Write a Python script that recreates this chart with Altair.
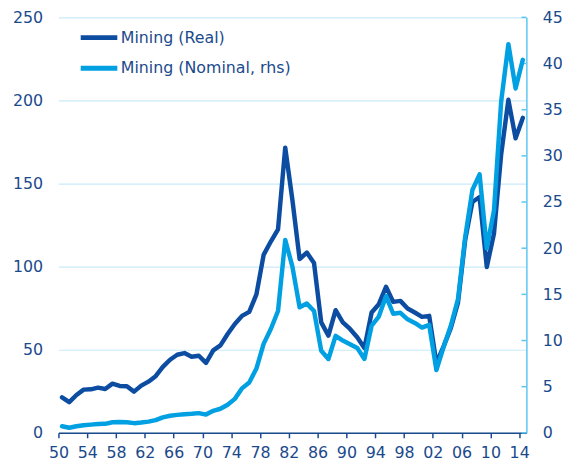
import altair as alt
import pandas as pd

years = list(range(1950, 2015))
real = [21.4, 18.5, 22.8, 26.0, 26.2, 27.2, 26.4, 29.6, 28.2, 28.0,
        24.8, 28.4, 30.8, 34.1, 39.7, 44.0, 47.0, 48.0, 45.8, 46.4,
        42.1, 49.6, 52.6, 59.5, 65.5, 70.4, 72.8, 83.3, 107.1, 115.1,
        122.4, 171.6, 140.0, 104.6, 108.5, 102.2, 66.5, 58.5, 73.8, 66.5,
        62.5, 57.5, 51.0, 72.4, 77.4, 87.9, 78.8, 79.4, 74.8, 72.4,
        69.8, 70.4, 42.0, 52.0, 63.0, 78.4, 116.1, 138.9, 141.9, 99.8,
        120.0, 167.7, 200.4, 177.2, 189.5]
nominal = [0.72, 0.55, 0.72, 0.82, 0.89, 0.95, 0.98, 1.15, 1.18, 1.15,
           1.05, 1.12, 1.22, 1.38, 1.68, 1.85, 1.95, 2.02, 2.06, 2.14,
           1.98, 2.39, 2.61, 3.04, 3.68, 4.82, 5.46, 6.96, 9.64, 11.25,
           13.2, 20.9, 18.0, 13.6, 14.0, 13.2, 8.9, 8.0, 10.5, 10.0,
           9.6, 9.2, 8.0, 11.6, 12.6, 14.8, 12.9, 13.0, 12.3, 11.9,
           11.4, 11.7, 6.8, 9.3, 11.6, 14.5, 21.2, 26.3, 28.0, 20.0,
           24.1, 35.9, 42.1, 37.3, 40.4]
x_ticks = list(range(1950, 2015, 4))
left_ticks = [0, 50, 100, 150, 200, 250]
right_ticks = [0, 5, 10, 15, 20, 25, 30, 35, 40, 45]
series = ["Mining (Real)", "Mining (Nominal, rhs)"]
colors = ["#0c4da2", "#00a0e3"]

TEXT = "#1b4a8c"
LIGHT = "#5cc6f2"
GRID = "#c8eaf9"
FONT = "DejaVu Sans"
FS = 16

df = pd.DataFrame({"year": years, "real": real, "nominal": nominal})
rt = pd.DataFrame({"v": right_ticks})

x_enc = alt.X(
    "t:Q",
    scale=alt.Scale(domain=[1950, 2015], nice=False, zero=False),
    axis=alt.Axis(values=x_ticks, labelExpr="slice(toString(datum.value), 2)",
                  domainColor=TEXT, tickColor=TEXT, tickSize=5, tickWidth=1.5,
                  domainWidth=1.5, grid=False, title=None, labelPadding=7,
                  labelFontSize=FS, labelColor=TEXT, labelFont=FONT,
                  labelOverlap=False, labelFlush=False, labelBound=False),
)

color_enc = alt.Color(
    "series:N",
    scale=alt.Scale(domain=series, range=colors),
    legend=alt.Legend(orient="none", legendX=20, legendY=5, title=None,
                      symbolType="stroke", symbolStrokeWidth=5, symbolSize=1369,
                      labelFontSize=FS, labelColor=TEXT, labelFont=FONT,
                      labelOffset=1, labelLimit=400, clipHeight=31, rowPadding=0),
)

base = alt.Chart(df).transform_calculate(t="datum.year + 0.5")

real_line = base.transform_calculate(series=f'"{series[0]}"').mark_line(
    strokeWidth=4.5, strokeJoin="round", strokeCap="round"
).encode(
    x=x_enc,
    y=alt.Y("real:Q", scale=alt.Scale(domain=[0, 250], nice=False),
            axis=alt.Axis(values=left_ticks, orient="left", domain=False, ticks=False,
                          grid=True, gridColor=GRID, gridWidth=1.2, title=None,
                          labelPadding=16, labelFontSize=FS, labelColor=TEXT,
                          labelFont=FONT, labelOverlap=False)),
    color=color_enc,
)

nom_line = base.transform_calculate(series=f'"{series[1]}"').mark_line(
    strokeWidth=4.5, strokeJoin="round", strokeCap="round"
).encode(
    x=x_enc,
    y=alt.Y("nominal:Q", scale=alt.Scale(domain=[0, 45], nice=False),
            axis=alt.Axis(values=right_ticks, orient="right", domain=True,
                          domainColor=LIGHT, domainWidth=1.5, ticks=False,
                          grid=False, title=None, labelPadding=16,
                          labelFontSize=FS, labelColor=TEXT, labelFont=FONT,
                          labelOverlap=False)),
    color=color_enc,
)

tick_rules = alt.Chart(rt).mark_rule(color=LIGHT, strokeWidth=1.5).encode(
    y=alt.Y("v:Q", scale=alt.Scale(domain=[0, 45], nice=False), axis=None),
    x=alt.value(468),
    x2=alt.value(473),
)

chart = alt.layer(real_line, tick_rules, nom_line).resolve_scale(
    y="independent"
).properties(
    width=473, height=420,
    autosize=alt.AutoSizeParams(type="none"),
    padding={"left": 51, "top": 7, "right": 36, "bottom": 27},
).configure_view(stroke=None)

chart.save("out.html", embed_options={"renderer": "svg", "actions": False})
